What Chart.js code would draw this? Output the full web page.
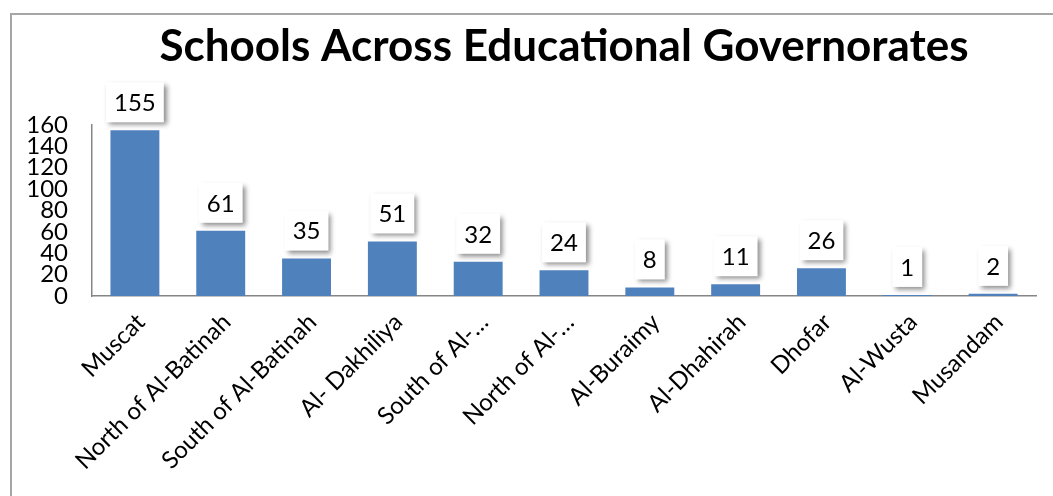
<!DOCTYPE html>
<html>
<head>
<meta charset="utf-8">
<script src="https://cdn.jsdelivr.net/npm/chart.js@4.4.0/dist/chart.umd.min.js"></script>
<style>
    html, body { margin: 0; padding: 0; background: #fff; overflow: hidden; }
    #wrap { position: relative; width: 1053px; height: 496px; }
    #frame {
        position: absolute; left: 10px; top: 13px; width: 1100px; height: 600px;
        border-left: 2px solid #a6a6a6; border-top: 2px solid #a6a6a6;
    }
    canvas { position: absolute; left: 0; top: 0; }
</style>
</head>
<body>
<div id="wrap">
    <div id="frame"></div>
    <canvas id="schoolsChart" width="1053" height="496"></canvas>
</div>
<script>
// Chart data
const governorates = ['Muscat', 'North of Al-Batinah', 'South of Al-Batinah', 'Al- Dakhiliya',
    'South of Al-…', 'North of Al-…', 'Al-Buraimy', 'Al-Dhahirah', 'Dhofar', 'Al-Wusta', 'Musandam'];
const schools = [155, 61, 35, 51, 32, 24, 8, 11, 26, 1, 2];
const yTicks = [0, 20, 40, 60, 80, 100, 120, 140, 160];
const chartTitle = 'Schools Across Educational Governorates';

const FONT = 'Lato, "Open Sans", sans-serif';

// Title centred over the plot area
const titlePlugin = {
    id: 'plotTitle',
    afterDraw(chart) {
        const { ctx, chartArea } = chart;
        ctx.save();
        ctx.font = 'bold 44px ' + FONT;
        ctx.fillStyle = '#000';
        ctx.textAlign = 'center';
        ctx.textBaseline = 'alphabetic';
        ctx.fillText(chartTitle, (chartArea.left + chartArea.right) / 2, 61);
        ctx.restore();
    }
};

// White callout boxes with a soft shadow above each bar
const boxLabels = {
    id: 'boxLabels',
    afterDatasetsDraw(chart) {
        const { ctx } = chart;
        const meta = chart.getDatasetMeta(0);
        ctx.save();
        ctx.font = '24px ' + FONT;
        meta.data.forEach((bar, i) => {
            const txt = String(schools[i]);
            const w = ctx.measureText(txt).width + 16;
            const h = 40;
            const x = bar.x - w / 2;
            const y = bar.y - 8 - h;
            ctx.save();
            ctx.shadowColor = 'rgba(0,0,0,0.45)';
            ctx.shadowBlur = 5;
            ctx.shadowOffsetX = 3;
            ctx.shadowOffsetY = 3;
            ctx.fillStyle = '#fff';
            ctx.fillRect(x, y, w, h);
            ctx.restore();
            ctx.fillStyle = '#000';
            ctx.textAlign = 'center';
            ctx.textBaseline = 'middle';
            ctx.fillText(txt, bar.x, y + h / 2 + 1);
        });
        ctx.restore();
    }
};

const ctx = document.getElementById('schoolsChart').getContext('2d');
new Chart(ctx, {
    type: 'bar',
    data: {
        labels: governorates,
        datasets: [{
            data: schools,
            backgroundColor: '#4f81bd',
            borderWidth: 0,
            barPercentage: 0.57,
            categoryPercentage: 1
        }]
    },
    options: {
        responsive: false,
        animation: false,
        layout: {
            padding: { top: 125, right: 17, left: 0, bottom: 0 }
        },
        plugins: {
            legend: { display: false },
            tooltip: { enabled: false }
        },
        scales: {
            y: {
                min: 0,
                max: 160,
                afterBuildTicks(scale) {
                    scale.ticks = yTicks.map(v => ({ value: v }));
                },
                afterFit(scale) {
                    scale.width = 92;
                },
                grid: { display: false, drawTicks: false },
                border: { display: true, color: '#868686', width: 1.5 },
                ticks: {
                    color: '#000',
                    autoSkip: false,
                    padding: 24,
                    font: { family: FONT, size: 24 }
                }
            },
            x: {
                afterFit(scale) {
                    scale.height = 200;
                },
                grid: { display: false, drawTicks: false },
                border: { display: true, color: '#868686', width: 1.5 },
                ticks: {
                    color: '#000',
                    minRotation: 45,
                    maxRotation: 45,
                    autoSkip: false,
                    padding: 12,
                    labelOffset: 6,
                    font: { family: FONT, size: 24 }
                }
            }
        }
    },
    plugins: [titlePlugin, boxLabels]
});
</script>
</body>
</html>
